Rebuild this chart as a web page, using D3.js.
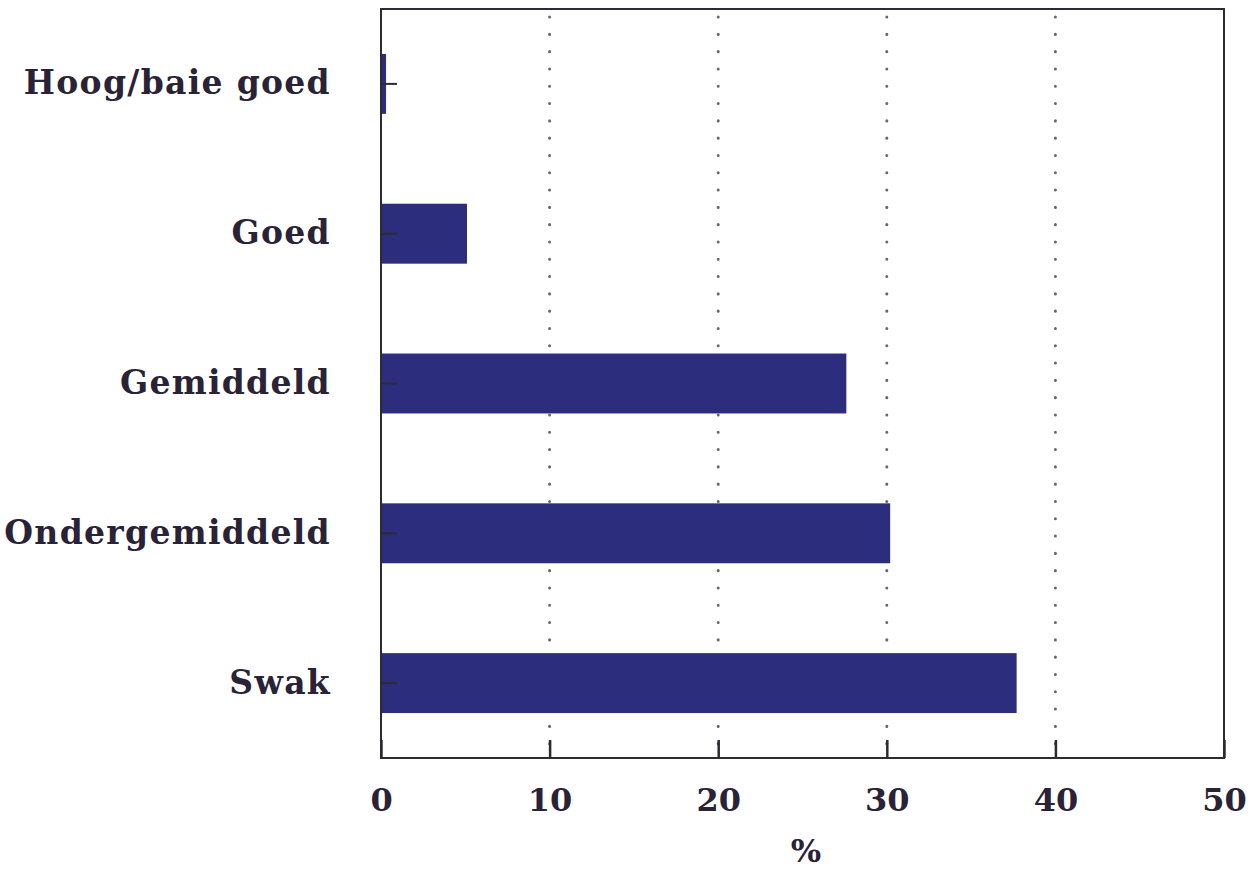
<!DOCTYPE html>
<html>
<head>
<meta charset="utf-8">
<script src="https://cdn.jsdelivr.net/npm/d3@7"></script>
<style>
  body { margin: 0; background: #fff; }
  text { font-family: 'DejaVu Serif', serif; font-weight: bold; fill: #2a2236; }
</style>
</head>
<body>
<div id="chart"></div>
<script>
const categories = ['Hoog/baie goed', 'Goed', 'Gemiddeld', 'Ondergemiddeld', 'Swak'];
const values = [0.3, 5.1, 27.6, 30.2, 37.7];
const xTicks = [0, 10, 20, 30, 40, 50];
const xLabel = '%';

const size = { width: 1255, height: 869 };
const margin = { left: 381, top: 9, right: 31, bottom: 111 };

const svg = d3.select('#chart').append('svg')
  .attr('width', size.width)
  .attr('height', size.height);

const x = d3.scaleLinear()
  .domain([0, 50])
  .range([margin.left, size.width - margin.right]);

const y = d3.scaleBand()
  .domain(categories)
  .range([margin.top, size.height - margin.bottom])
  .paddingInner(0.6)
  .paddingOuter(0.3);

// dotted grid lines
svg.append('g')
  .selectAll('line')
  .data(xTicks.slice(1, -1))
  .join('line')
  .attr('x1', (d) => x(d))
  .attr('x2', (d) => x(d))
  .attr('y1', margin.top + 8)
  .attr('y2', size.height - margin.bottom)
  .attr('stroke', '#6a6670')
  .attr('stroke-width', 3)
  .attr('stroke-linecap', 'round')
  .attr('stroke-dasharray', '0.1 17.2');

// bars
svg.append('g')
  .selectAll('rect')
  .data(categories)
  .join('rect')
  .attr('x', x(0))
  .attr('y', (d) => y(d))
  .attr('width', (d, i) => x(values[i]) - x(0))
  .attr('height', y.bandwidth())
  .attr('fill', '#2c2d7c');

// frame
svg.append('rect')
  .attr('x', x(0))
  .attr('y', margin.top)
  .attr('width', x(50) - x(0))
  .attr('height', size.height - margin.bottom - margin.top)
  .attr('fill', 'none')
  .attr('stroke', '#2e2a33')
  .attr('stroke-width', 2);

// bottom axis (inner ticks)
const xAxis = svg.append('g')
  .attr('transform', `translate(0, ${size.height - margin.bottom})`)
  .call(d3.axisBottom(x).tickValues(xTicks).tickSizeInner(-18).tickSizeOuter(0).tickPadding(30));
xAxis.select('.domain').remove();
xAxis.selectAll('.tick line').attr('stroke', '#2e2a33').attr('stroke-width', 2.5);
xAxis.selectAll('.tick text')
  .style('font-size', '32px')
  .attr('fill', '#2a2236');

// left axis (inner ticks)
const yAxis = svg.append('g')
  .attr('transform', `translate(${margin.left}, 0)`)
  .call(d3.axisLeft(y).tickSizeInner(-16).tickSizeOuter(0).tickPadding(50));
yAxis.select('.domain').remove();
yAxis.selectAll('.tick line').attr('stroke', '#2e2a33').attr('stroke-width', 2);
yAxis.selectAll('.tick text')
  .style('font-size', '33px')
  .style('letter-spacing', '1.3px')
  .attr('fill', '#2a2236');

svg.append('text')
  .attr('x', 806)
  .attr('y', 862)
  .attr('text-anchor', 'middle')
  .style('font-size', '32px')
  .text(xLabel);
</script>
</body>
</html>
